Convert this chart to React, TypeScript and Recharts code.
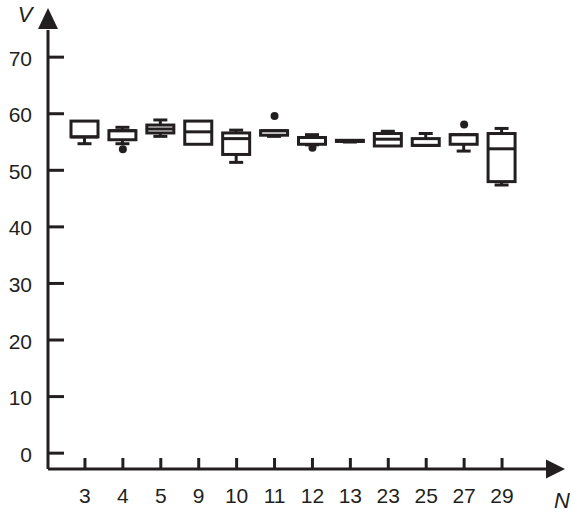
import { ComposedChart, Bar, Scatter, XAxis, YAxis } from "recharts";

// values
const categories = ["3", "4", "5", "9", "10", "11", "12", "13", "23", "25", "27", "29"];
const mins = [54.7, 54.7, 56.0, 54.6, 51.4, 56.0, 54.5, 55.0, 54.3, 54.4, 53.4, 47.4];
const q1s = [55.9, 55.4, 56.6, 54.6, 52.8, 56.2, 54.6, 55.1, 54.3, 54.4, 54.6, 48.0];
const medians = [55.9, 57.0, 57.3, 56.8, 55.6, 57.0, 55.8, 55.2, 55.5, 54.4, 56.3, 53.8];
const q3s = [58.7, 57.0, 58.0, 58.7, 56.6, 57.0, 55.8, 55.3, 56.5, 55.6, 56.3, 56.5];
const maxs = [58.7, 57.6, 58.9, 58.7, 57.1, 57.0, 56.3, 55.3, 56.9, 56.5, 56.3, 57.4];
const outliers = [null, 53.7, null, null, null, 59.6, 54.0, null, null, null, 58.1, null];
const yTicks = [0, 10, 20, 30, 40, 50, 60, 70];

const rows = categories.map((n, i) => ({
  n,
  min: mins[i],
  q1: q1s[i],
  med: medians[i],
  q3: q3s[i],
  max: maxs[i],
  out: outliers[i],
}));

const INK = "#231f20";
const FONT = "'Liberation Sans', Arial, sans-serif";

const W = 575;
const H = 512;
const margin = { top: 30, right: 27, bottom: 0, left: 0 };
const Y_AXIS_W = 48;
const X_AXIS_H = 43;

// box drawn from the bar's own geometry (bar runs 0 -> max)
function BoxShape(props: any) {
  const { x, y, width, height, payload } = props;
  if (!payload || !height) return <g />;
  const k = height / payload.max;
  const py = (v: number) => y + (payload.max - v) * k;
  const cx = x + width / 2;
  const cap = 7;
  const top = py(payload.q3);
  const bottom = py(payload.q1);
  return (
    <g stroke={INK} strokeWidth={3} fill="none">
      {payload.max > payload.q3 && (
        <>
          <line x1={cx} x2={cx} y1={py(payload.max)} y2={top} />
          <line x1={cx - cap} x2={cx + cap} y1={py(payload.max)} y2={py(payload.max)} />
        </>
      )}
      {payload.min < payload.q1 && (
        <>
          <line x1={cx} x2={cx} y1={bottom} y2={py(payload.min)} />
          <line x1={cx - cap} x2={cx + cap} y1={py(payload.min)} y2={py(payload.min)} />
        </>
      )}
      <rect x={x} y={top} width={width} height={Math.max(bottom - top, 0.5)} fill="#fff" />
      <line x1={x} x2={x + width} y1={py(payload.med)} y2={py(payload.med)} />
    </g>
  );
}

function OutlierDot(props: any) {
  const { cx, cy, payload } = props;
  if (!payload || payload.out == null || cy == null || isNaN(cy)) return <g />;
  return <circle cx={cx} cy={cy} r={4} fill={INK} />;
}

function YTick(props: any) {
  const { x, y, payload } = props;
  return (
    <g>
      <line x1={x} x2={x + 16} y1={y} y2={y} stroke={INK} strokeWidth={3} />
      <text x={x - 16} y={y + 8.5} textAnchor="end" fontSize={21} fontFamily={FONT} fill={INK}>
        {payload.value}
      </text>
    </g>
  );
}

function XTick(props: any) {
  const { x, y, payload } = props;
  return (
    <g>
      <line x1={x} x2={x} y1={y} y2={y - 11} stroke={INK} strokeWidth={3} />
      <text x={x} y={y + 34} textAnchor="middle" fontSize={21} fontFamily={FONT} fill={INK}>
        {payload.value}
      </text>
    </g>
  );
}

export default function App() {
  const plotLeft = margin.left + Y_AXIS_W;
  const plotTop = margin.top;
  const plotRight = W - margin.right;
  const plotBottom = H - margin.bottom - X_AXIS_H;

  return (
    <div style={{ position: "absolute", left: 0, top: 0, width: W, height: H, background: "#fff" }}>
      <ComposedChart width={W} height={H} data={rows} margin={margin}>
        <XAxis
          dataKey="n"
          type="category"
          height={X_AXIS_H}
          padding={{ left: 18, right: 27 }}
          axisLine={{ stroke: INK, strokeWidth: 3 }}
          tickLine={false}
          tickSize={0}
          tickMargin={0}
          tick={<XTick />}
          interval={0}
        />
        <YAxis
          type="number"
          domain={[-2.8, 74.8]}
          ticks={yTicks}
          allowDataOverflow
          width={Y_AXIS_W}
          axisLine={{ stroke: INK, strokeWidth: 3 }}
          tickLine={false}
          tickSize={0}
          tickMargin={0}
          tick={<YTick />}
        />
        <Bar dataKey="max" barSize={27} shape={<BoxShape />} isAnimationActive={false} />
        <Scatter dataKey="out" shape={<OutlierDot />} isAnimationActive={false} />
      </ComposedChart>
      <svg
        width={W}
        height={H}
        style={{ position: "absolute", left: 0, top: 0, pointerEvents: "none" }}
      >
        <polygon
          points={`${plotLeft - 10},${plotTop - 1} ${plotLeft + 10},${plotTop - 1} ${plotLeft},${plotTop - 22}`}
          fill={INK}
        />
        <polygon
          points={`${plotRight - 2},${plotBottom - 9.5} ${plotRight - 2},${plotBottom + 9.5} ${plotRight + 17},${plotBottom}`}
          fill={INK}
        />
        <text x={25} y={22} textAnchor="middle" fontSize={22} fontStyle="italic" fontFamily={FONT} fill={INK}>
          V
        </text>
        <text x={562} y={508} textAnchor="middle" fontSize={22} fontStyle="italic" fontFamily={FONT} fill={INK}>
          N
        </text>
      </svg>
    </div>
  );
}
